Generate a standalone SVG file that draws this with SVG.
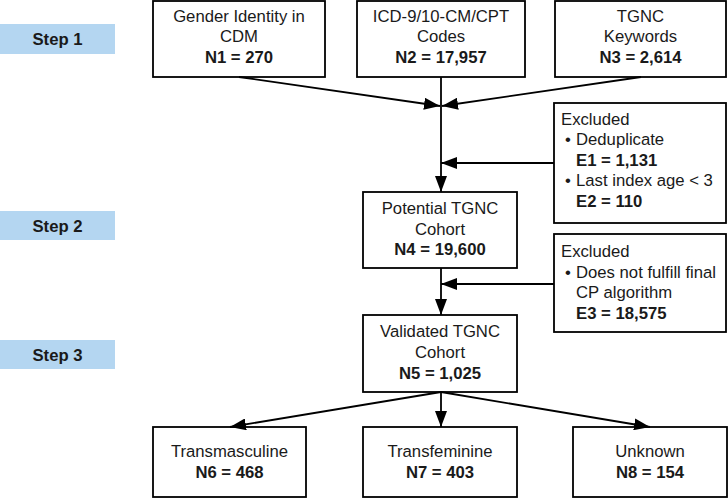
<svg xmlns="http://www.w3.org/2000/svg" width="728" height="498" viewBox="0 0 728 498">
<defs>
<marker id="ah" viewBox="0 0 16 12" refX="16" refY="6" markerWidth="16" markerHeight="12" markerUnits="userSpaceOnUse" orient="auto">
<path d="M0,0 L16,6 L0,12 Z" fill="#000"/>
</marker>
<style>
.box{fill:#fff;stroke:#000;stroke-width:1.8}
.step{fill:#b4d6f1}
text{font-family:"Liberation Sans",Arial,sans-serif;font-size:16.7px;fill:#1a1a1a}
.c{text-anchor:middle}
.b{font-weight:bold}
.ln{fill:none;stroke:#000;stroke-width:1.8}
</style>
</defs>
<g id="step1"><rect class="step" x="0" y="24" width="115" height="30"/><text class="c b" x="57.5" y="45">Step 1</text></g>
<g id="step2"><rect class="step" x="0" y="211" width="115" height="29"/><text class="c b" x="57.5" y="231.5">Step 2</text></g>
<g id="step3"><rect class="step" x="0" y="340" width="115" height="29"/><text class="c b" x="57.5" y="360.5">Step 3</text></g>

<g id="n1"><rect class="box" x="153" y="1" width="172" height="76"/>
<text class="c" x="239" y="21.5">Gender Identity in</text><text class="c" x="239" y="42">CDM</text><text class="c b" x="239" y="62.5">N1 = 270</text></g>
<g id="n2"><rect class="box" x="357" y="1" width="168" height="76"/>
<text class="c" x="441" y="21.5">ICD-9/10-CM/CPT</text><text class="c" x="441" y="42">Codes</text><text class="c b" x="441" y="62.5">N2 = 17,957</text></g>
<g id="n3"><rect class="box" x="555" y="1" width="171" height="76"/>
<text class="c" x="640.5" y="21.5">TGNC</text><text class="c" x="640.5" y="42">Keywords</text><text class="c b" x="640.5" y="62.5">N3 = 2,614</text></g>

<g id="e1"><rect class="box" x="554" y="103" width="172" height="120"/>
<text x="561" y="124.5">Excluded</text>
<text x="565" y="145">•</text><text x="576" y="145">Deduplicate</text>
<text class="b" x="576" y="165.5">E1 = 1,131</text>
<text x="565" y="186">•</text><text x="576" y="186">Last index age &lt; 3</text>
<text class="b" x="576" y="206.5">E2 = 110</text></g>

<g id="n4"><rect class="box" x="363" y="192" width="154" height="76"/>
<text class="c" x="440" y="214">Potential TGNC</text><text class="c" x="440" y="234.5">Cohort</text><text class="c b" x="440" y="255">N4 = 19,600</text></g>

<g id="e2"><rect class="box" x="554" y="234" width="172" height="98"/>
<text x="561" y="257">Excluded</text>
<text x="565" y="277.5">•</text><text x="576" y="277.5">Does not fulfill final</text>
<text x="576" y="298">CP algorithm</text>
<text class="b" x="576" y="318.5">E3 = 18,575</text></g>

<g id="n5"><rect class="box" x="363" y="315" width="154" height="77"/>
<text class="c" x="440" y="337">Validated TGNC</text><text class="c" x="440" y="358">Cohort</text><text class="c b" x="440" y="379">N5 = 1,025</text></g>

<g id="n6"><rect class="box" x="153" y="427" width="153" height="70"/>
<text class="c" x="229.5" y="457">Transmasculine</text><text class="c b" x="229.5" y="477.5">N6 = 468</text></g>
<g id="n7"><rect class="box" x="363" y="427" width="154" height="70"/>
<text class="c" x="440" y="457">Transfeminine</text><text class="c b" x="440" y="477.5">N7 = 403</text></g>
<g id="n8"><rect class="box" x="573" y="427" width="154" height="70"/>
<text class="c" x="650" y="457">Unknown</text><text class="c b" x="650" y="477.5">N8 = 154</text></g>

<g id="connectors">
<line class="ln" x1="239" y1="77" x2="440" y2="106" marker-end="url(#ah)"/>
<line class="ln" x1="641" y1="77" x2="442" y2="106" marker-end="url(#ah)"/>
<line class="ln" x1="441" y1="77" x2="441" y2="192" marker-end="url(#ah)"/>
<line class="ln" x1="554" y1="163" x2="441" y2="163" marker-end="url(#ah)"/>
<line class="ln" x1="441" y1="268" x2="441" y2="315" marker-end="url(#ah)"/>
<line class="ln" x1="554" y1="284" x2="441" y2="284" marker-end="url(#ah)"/>
<line class="ln" x1="441" y1="392" x2="230" y2="427" marker-end="url(#ah)"/>
<line class="ln" x1="441" y1="392" x2="441" y2="427" marker-end="url(#ah)"/>
<line class="ln" x1="441" y1="392" x2="650" y2="427" marker-end="url(#ah)"/>
</g>
</svg>
